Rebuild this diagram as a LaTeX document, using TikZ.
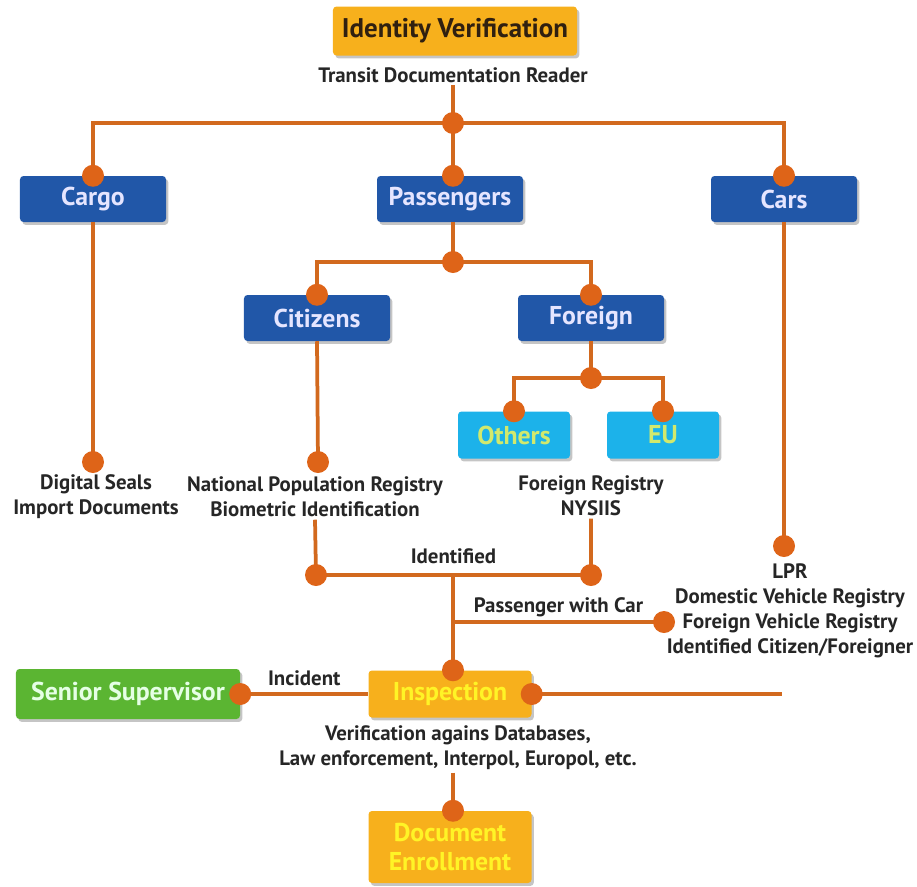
\documentclass[tikz,border=0pt]{standalone}
\usepackage{fontspec}
\setmainfont{PT Sans}
\usetikzlibrary{shadows}
\definecolor{linec}{HTML}{D2691E}
\definecolor{dotc}{HTML}{DE6418}
\definecolor{boxblue}{HTML}{2157A8}
\definecolor{boxcyan}{HTML}{1CB2EA}
\definecolor{boxorange}{HTML}{F7B01C}
\definecolor{boxgreen}{HTML}{5BB532}
\begin{document}
\begin{tikzpicture}[x=0.03cm, y=-0.03cm,
        box/.style={rectangle, rounded corners=3pt, font=\bfseries\fontsize{22}{26}\selectfont, inner sep=2pt,
            align=center, drop shadow={shadow xshift=2pt, shadow yshift=-2.5pt, fill=black!45, opacity=0.5}},
        cat/.style={box, fill=boxblue, text=white!90!blue, minimum width=4.38cm, minimum height=1.38cm},
        sub/.style={box, fill=boxcyan, text=yellow!70!green!60!white, minimum width=3.36cm, minimum height=1.41cm},
        stage/.style={box, fill=boxorange, text=yellow!85!white, minimum width=4.89cm, minimum height=1.41cm},
        info/.style={font=\bfseries\fontsize{17.8}{21.5}\selectfont, align=center, text=black!85, inner sep=2pt},
        link/.style={draw=linec, line width=3.2pt},
        dot/.style={fill=dotc}
    ]
    \useasboundingbox (0,0) rectangle (917,886);

    % boxes
    \node[stage, text=black!75!brown, minimum width=7.32cm, minimum height=1.47cm, font=\bfseries\fontsize{23}{26}\selectfont] (identity) at (455,31) {Identity Verification};
    \node[info] (reader) at (453,75) {Transit Documentation Reader};
    \node[cat] (cargo) at (93,199) {Cargo};
    \node[cat] (passengers) at (450,199) {Passengers};
    \node[cat] (cars) at (784,199) {Cars};
    \node[cat] (citizens) at (317,318) {Citizens};
    \node[cat] (foreign) at (591,318) {Foreign};
    \node[sub] (others) at (514,435) {Others};
    \node[sub] (eu) at (663,435) {EU};
    \node[stage] (inspection) at (450,694) {Inspection};
    \node[box, fill=boxgreen, text=white!90!green, minimum width=6.72cm, minimum height=1.5cm] (supervisor) at (128,694) {Senior Supervisor};
    \node[stage, minimum height=2.16cm, font=\bfseries\fontsize{22}{25.5}\selectfont] (enroll) at (450,847) {Document\\Enrollment};

    % texts
    \node[info] (cargodocs) at (96,497) {Digital Seals\\Import Documents};
    \node[info] (natreg) at (315,497) {National Population Registry\\Biometric Identification};
    \node[info] (forreg) at (591,496) {Foreign Registry\\NYSIIS};
    \node[info] (carreg) at (790,611) {LPR\\Domestic Vehicle Registry\\Foreign Vehicle Registry\\Identified Citizen/Foreigner};
    \node[info] (verif) at (458,748) {Verification agains Databases,\\Law enforcement, Interpol, Europol, etc.};

    % junctions
    \coordinate (j1) at (453,123);
    \coordinate (j2) at (453,262);
    \coordinate (j3) at (591,378);
    \coordinate (cargoend) at (93,462);
    \coordinate (citend) at (318,462);
    \coordinate (carend) at (784,546);
    \coordinate (idleft) at (316,575);
    \coordinate (idright) at (591,575);
    \coordinate (idmid) at (453,575);
    \coordinate (carjoin) at (453,622);
    \coordinate (carin) at (664,622);
    \coordinate (rightend) at (782,694);

    % connectors
    \draw[link] (reader.south) -- (j1) -- (passengers.north -| j1);
    \draw[link] (cargo.north) |- (j1) -| (cars.north);
    \draw[link] (cargo.south) -- (cargoend);
    \draw[link] (passengers.south -| j2) -- (j2);
    \draw[link] (citizens.north) |- (j2) -| (foreign.north);
    \draw[link] (citizens.south) -- (citend);
    \draw[link] (foreign.south) -- (j3);
    \draw[link] (others.north) |- (j3) -| (eu.north);
    \draw[link] (cars.south) -- (carend);
    \draw[link] (natreg.south) -- (idleft) -- node[info, above=6pt] {Identified} (idright) -- (forreg.south);
    \draw[link] (idmid) -- (inspection.north -| idmid);
    \draw[link] (carjoin) -- node[info, above=1pt] {Passenger with Car} (carin);
    \draw[link] (supervisor.east) -- node[info, above=3pt] {Incident} (inspection.west);
    \draw[link] (inspection.east) -- (rightend);
    \draw[link] (verif.south -| idmid) -- (enroll.north -| idmid);

    % dots
    \foreach \p in {j1, j2, j3, cargoend, citend, carend, idleft, idright, carin}
        \fill[dot] (\p) circle (0.33cm);
    \foreach \p in {cargo.north, passengers.north -| j1, cars.north, citizens.north, foreign.north,
            others.north, eu.north, inspection.north -| idmid, inspection.east, supervisor.east, enroll.north -| idmid}
        \fill[dot] (\p) circle (0.33cm);
\end{tikzpicture}
\end{document}
